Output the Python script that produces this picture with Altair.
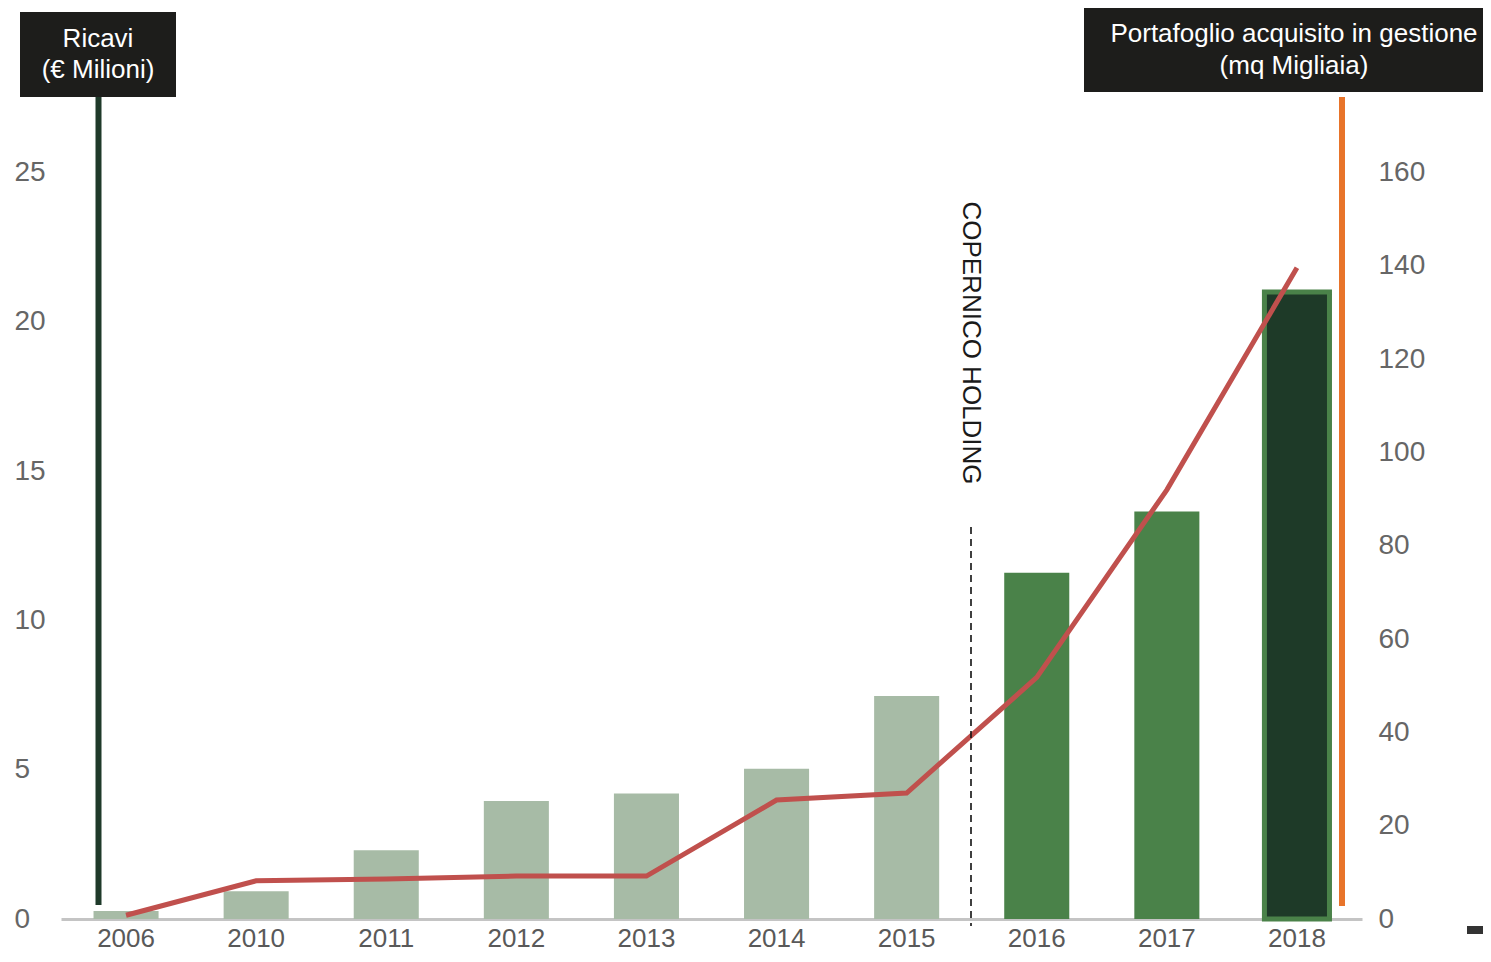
import altair as alt
import pandas as pd

# ---- data ----
anni = ["2006", "2010", "2011", "2012", "2013", "2014", "2015", "2016", "2017", "2018"]
ricavi = [0.27, 0.93, 2.3, 3.95, 4.2, 5.03, 7.47, 11.6, 13.65, 21.0]          # € Milioni (left axis)
portafoglio = [0.8, 8.2, 8.6, 9.2, 9.2, 25.5, 27.0, 51.8, 92.0, 139.6]         # mq Migliaia (right axis)
left_ticks = [0, 5, 10, 15, 20, 25]
right_ticks = [0, 20, 40, 60, 80, 100, 120, 140, 160]

# ---- styles ----
fill_colors = ["#a7bba6"] * 7 + ["#4a8249", "#4a8249", "#1e3a28"]
stroke_colors = ["#a7bba6"] * 7 + ["#4a8249", "#4a8249", "#4a8249"]
FONT = "Liberation Sans"

df = pd.DataFrame({"Anno": anni, "Ricavi": ricavi, "Portafoglio": portafoglio})

x_enc = alt.X(
    "Anno:N", sort=anni,
    scale=alt.Scale(paddingInner=0.5, paddingOuter=0.25),
    axis=alt.Axis(title=None, labelAngle=0, labelFontSize=26, labelColor="#595959",
                  labelFont=FONT, labelPadding=6, labelBaseline="top", ticks=False, tickSize=0,
                  domainColor="#c4c4c4", domainWidth=3, grid=False),
)

bars = alt.Chart(df).mark_bar().encode(
    x=x_enc,
    y=alt.Y("Ricavi:Q", scale=alt.Scale(domain=[0, 27.5], nice=False, zero=True),
            axis=alt.Axis(title=None, values=left_ticks, orient="left", labelAlign="left",
                          labelBaseline="middle", labelPadding=47, ticks=False, tickSize=0,
                          domain=False, grid=False, labelFontSize=28, labelColor="#666666",
                          labelFont=FONT)),
    fill=alt.Fill("Anno:N", scale=alt.Scale(domain=anni, range=fill_colors), legend=None),
    stroke=alt.Stroke("Anno:N", scale=alt.Scale(domain=anni, range=stroke_colors), legend=None),
    strokeWidth=alt.condition(alt.datum.Anno == "2018", alt.value(5), alt.value(0)),
)

line = alt.Chart(df).mark_line(color="#c0504d", strokeWidth=5).encode(
    x=alt.X("Anno:N", sort=anni),
    y=alt.Y("Portafoglio:Q", scale=alt.Scale(domain=[0, 176], nice=False, zero=True),
            axis=alt.Axis(title=None, values=right_ticks, orient="right", labelAlign="left",
                          labelBaseline="middle", labelPadding=16, ticks=False, tickSize=0,
                          domain=False, grid=False, labelFontSize=28, labelColor="#666666",
                          labelFont=FONT)),
)

one = alt.Data(values=[{"k": 1}])
dec = alt.Chart(one)

left_rule = dec.mark_rule(color="#1f3a2a", strokeWidth=6).encode(
    x=alt.value(37.5), y=alt.value(-1), y2=alt.value(807))
orange_rule = dec.mark_rule(color="#e8742a", strokeWidth=6).encode(
    x=alt.value(1281), y=alt.value(-1), y2=alt.value(808))
dash_rule = dec.mark_rule(color="#111111", strokeWidth=1.6, strokeDash=[7, 5]).encode(
    x=alt.value(910), y=alt.value(429), y2=alt.value(828))
cop_text = dec.mark_text(text="COPERNICO HOLDING", angle=90, fontSize=26, font=FONT,
                         color="#1a1a1a", align="center", baseline="middle").encode(
    x=alt.value(910), y=alt.value(245))

box_left = dec.mark_rect(color="#1d1d1b").encode(
    x=alt.value(-41), x2=alt.value(115), y=alt.value(-86), y2=alt.value(-1))
box_right = dec.mark_rect(color="#1d1d1b").encode(
    x=alt.value(1023), x2=alt.value(1440), y=alt.value(-91), y2=alt.value(-6))

def label(txt, xv, yv):
    return dec.mark_text(text=txt, fontSize=26, font=FONT, color="white",
                         align="center", baseline="middle").encode(
        x=alt.value(xv), y=alt.value(yv))

t1 = label("Ricavi", 37, -59)
t2 = label("(€ Milioni)", 37, -28)
t3 = label("Portafoglio acquisito in gestione", 1233, -64)
t4 = label("(mq Migliaia)", 1233, -32)

marker = dec.mark_rect(color="#333333").encode(
    x=alt.value(1406), x2=alt.value(1440), y=alt.value(828), y2=alt.value(836))

chart = alt.layer(
    bars, line, dash_rule, left_rule, orange_rule, cop_text,
    box_left, box_right, t1, t2, t3, t4, marker,
).resolve_scale(y="independent").properties(
    width=1301, height=821,
    padding={"left": 53, "top": 90, "right": 121, "bottom": 35},
    autosize=alt.AutoSizeParams(type="none"),
    background="white",
).configure_view(strokeOpacity=0, strokeWidth=0)

chart.save("out.html", embed_options={"renderer": "svg", "actions": False})
